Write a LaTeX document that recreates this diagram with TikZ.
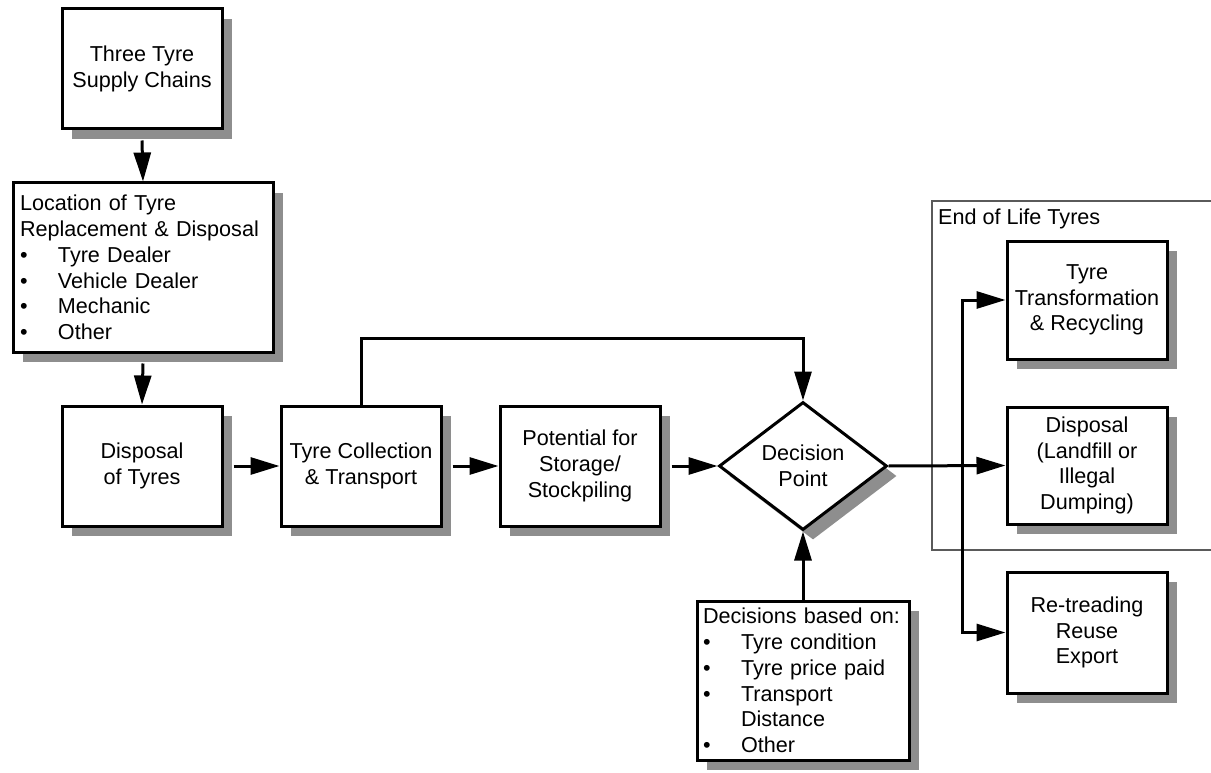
\documentclass[tikz,border=0pt]{standalone}
\usepackage{fontspec}
\setmainfont{Liberation Sans}
\usetikzlibrary{shapes.geometric,arrows.meta,shadows}
\definecolor{shadowgray}{RGB}{142,142,142}
\definecolor{framegray}{RGB}{90,90,90}
\newcommand{\bitem}[1]{\makebox[38pt][l]{\textbullet}#1}
\newcommand{\bindent}{\makebox[38pt][l]{}}
\begin{document}
\begin{tikzpicture}[x=1pt,y=-1pt,
  every node/.style={font=\fontsize{21.6}{25.8}\selectfont},
  shadowed/.style={drop shadow={shadow xshift=10pt,shadow yshift=-10pt,fill=shadowgray,opacity=1}},
  box/.style={draw, line width=3pt, fill=white, inner sep=0pt, align=center, shadowed},
  listbox/.style={draw, line width=3pt, fill=white, inner sep=0pt, align=left, shadowed},
  dia/.style={diamond, draw, line width=3pt, fill=white, inner sep=0pt, aspect=1.3125,
              minimum width=168pt, minimum height=128pt, align=center, shadowed},
  arr/.style={line width=3pt, -{Triangle[length=29pt,width=17pt]}},
  frame/.style={draw=framegray, line width=1.2pt}]
\useasboundingbox (0,0) rectangle (1211,773);

% group frame
\coordinate (gtl) at (1220,201);
\coordinate (gbl) at (932,550);
\coordinate (gbr) at (1220,550);
\draw[frame] (gtl) -| (gbl) -- (gbr);
\node[anchor=base west, inner sep=0pt] (eolt) at (938,225) {End of Life Tyres};

% nodes
\node[box, minimum width=160pt, minimum height=120pt] (supply) at (142,69) {Three Tyre\\Supply Chains};
\node[listbox, minimum width=260pt, minimum height=169pt, text width=246pt] (location) at (143,267.5)
  {Location of Tyre\\Replacement \& Disposal\\\bitem{Tyre Dealer}\\\bitem{Vehicle Dealer}\\\bitem{Mechanic}\\\bitem{Other}};
\node[box, minimum width=160pt, minimum height=120pt] (disposal) at (142,466) {Disposal\\of Tyres};
\node[box, minimum width=160pt, minimum height=120pt] (collect) at (361,466) {Tyre Collection\\\& Transport};
\node[box, minimum width=160pt, minimum height=120pt] (storage) at (580,466) {Potential for\\Storage/\\Stockpiling};
\node[dia] (decision) at (803,466) {Decision\\Point};
\node[listbox, minimum width=212pt, minimum height=159pt, text width=200pt] (decisions) at (803,680.5)
  {Decisions based on:\\\bitem{Tyre condition}\\\bitem{Tyre price paid}\\\bitem{Transport}\\\bindent Distance\\\bitem{Other}};
\node[box, minimum width=160pt, minimum height=118pt] (transform) at (1087,300) {Tyre\\Transformation\\\& Recycling};
\node[box, minimum width=160pt, minimum height=117pt] (disposal2) at (1087,465.5) {Disposal\\(Landfill or\\Illegal\\Dumping)};
\node[box, minimum width=160pt, minimum height=121pt] (retread) at (1087,632.5) {Re-treading\\Reuse\\Export};

% connectors
\draw[arr] ([yshift=-10pt]supply.south) -- (location.north);
\draw[arr] ([yshift=-10pt]location.south) -- (disposal.north);
\draw[arr] ([xshift=10pt]disposal.east) -- (collect.west);
\draw[arr] ([xshift=10pt]collect.east) -- (storage.west);
\draw[arr] ([xshift=10pt]storage.east) -- (decision.west);
\coordinate (topbend) at (803,338);
\draw[arr] (collect.north) |- (topbend) -- (decision.north);
\draw[arr] (decisions.north) -- (decision.south);
\draw[arr] (decision.east) -- (disposal2.west);
\coordinate (spine) at (962,466);
\draw[arr] (spine) |- (transform.west);
\draw[arr] (spine) |- (retread.west);
\end{tikzpicture}
\end{document}
